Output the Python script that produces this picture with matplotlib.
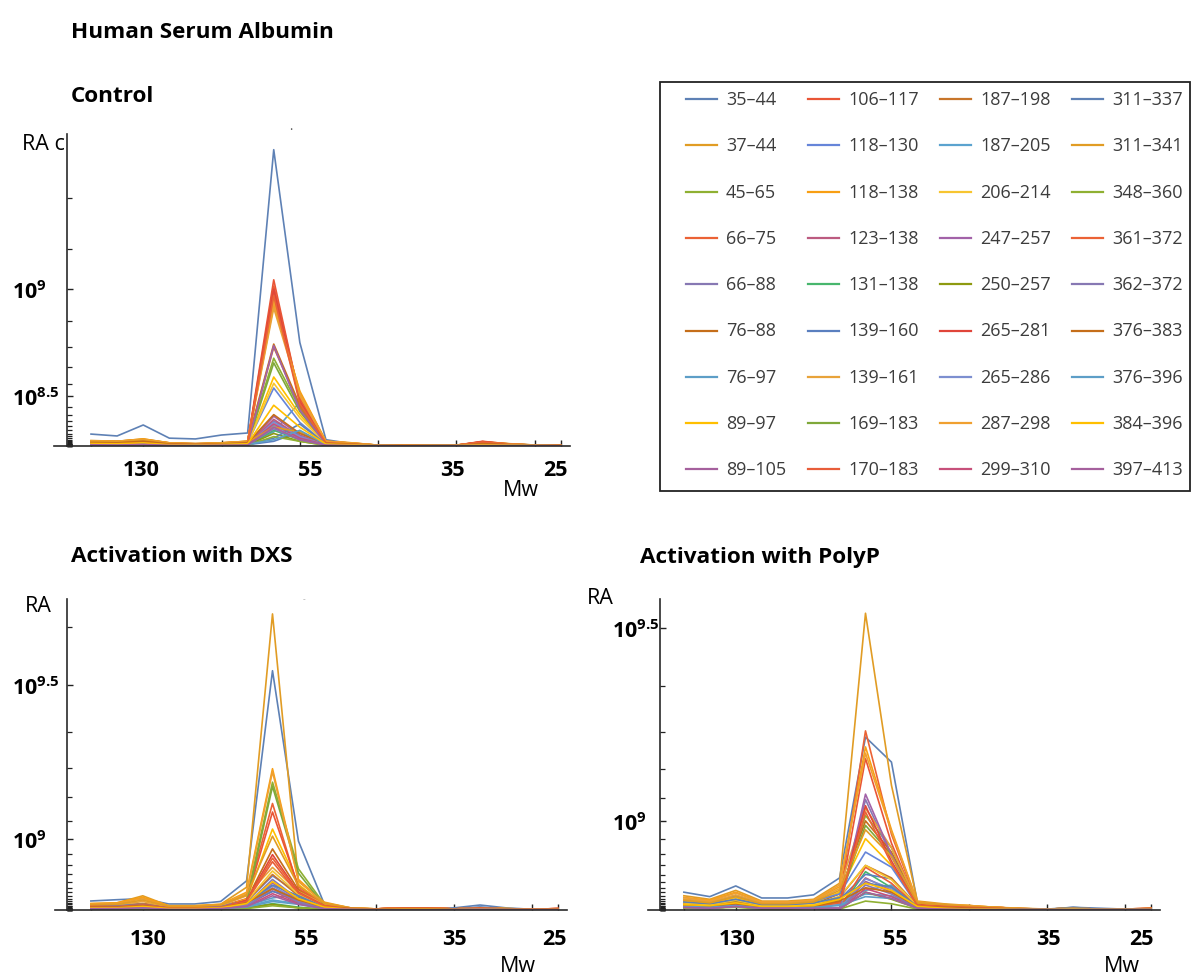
import numpy as np
import matplotlib.pyplot as plt
from matplotlib.patches import Rectangle

plt.rcParams['font.family'] = ['Open Sans', 'DejaVu Sans']
plt.rcParams['mathtext.fontset'] = 'custom'
plt.rcParams['mathtext.rm'] = 'Open Sans'
plt.rcParams['mathtext.bf'] = 'Open Sans:bold'

W, H = 1193, 978

peptides = ['35–44', '37–44', '45–65', '66–75', '66–88', '76–88', '76–97', '89–97', '89–105',
            '106–117', '118–130', '118–138', '123–138', '131–138', '139–160', '139–161', '169–183', '170–183',
            '187–198', '187–205', '206–214', '247–257', '250–257', '265–281', '265–286', '287–298', '299–310',
            '311–337', '311–341', '348–360', '361–372', '362–372', '376–383', '376–396', '384–396', '397–413']

colors = ['#5E81B5', '#E19C24', '#8FB032', '#EB6235', '#8778B3', '#C56E1A', '#5D9EC7', '#FFBF00', '#A5609D',
          '#E95536', '#6685D9', '#F89F13', '#BC5B80', '#47B66D', '#5A7FBF', '#E8A33A', '#7FA83A', '#E85D3A',
          '#C8752A', '#5BA3CF', '#F7C530', '#A262A8', '#8E9A10', '#E0453A', '#7D8FD0', '#F0A030', '#C7507A',
          '#5E81B5', '#E19C24', '#8FB032', '#EB6235', '#8778B3', '#C56E1A', '#5D9EC7', '#FFBF00', '#A5609D']

slices = np.arange(19)
tick_slices = [0, 2, 5, 8, 11, 14, 17, 18]
mw_names = ['130', '55', '35', '25']

# relative abundance, units of 1e8, one row per peptide (legend order)
control = [
    [0.76, 0.64, 1.34, 0.50, 0.45, 0.70, 0.83, 18.9, 6.6, 0.40, 0.15, 0.05, 0.03, 0.03, 0.05, 0.10, 0.12, 0.06, 0.02],
    [0.35, 0.30, 0.45, 0.20, 0.15, 0.20, 0.30, 9.4, 3.4, 0.30, 0.20, 0.05, 0.03, 0.04, 0.06, 0.25, 0.15, 0.06, 0.02],
    [0.25, 0.22, 0.30, 0.12, 0.10, 0.15, 0.20, 5.6, 2.4, 0.20, 0.10, 0.04, 0.02, 0.03, 0.04, 0.10, 0.08, 0.04, 0.02],
    [0.30, 0.28, 0.40, 0.18, 0.12, 0.18, 0.28, 10.2, 3.1, 0.30, 0.18, 0.05, 0.03, 0.03, 0.05, 0.22, 0.12, 0.05, 0.02],
    [0.10, 0.08, 0.12, 0.05, 0.04, 0.06, 0.08, 1.6, 0.6, 0.10, 0.05, 0.02, 0.01, 0.02, 0.02, 0.05, 0.04, 0.02, 0.01],
    [0.32, 0.30, 0.42, 0.20, 0.15, 0.20, 0.30, 6.5, 2.6, 0.25, 0.15, 0.05, 0.03, 0.03, 0.05, 0.28, 0.14, 0.06, 0.02],
    [0.15, 0.12, 0.18, 0.08, 0.06, 0.10, 0.12, 0.9, 2.8, 0.15, 0.06, 0.03, 0.02, 0.02, 0.03, 0.06, 0.05, 0.03, 0.01],
    [0.20, 0.18, 0.25, 0.10, 0.08, 0.12, 0.18, 4.4, 2.0, 0.15, 0.12, 0.04, 0.02, 0.03, 0.04, 0.12, 0.08, 0.04, 0.02],
    [0.12, 0.10, 0.15, 0.06, 0.05, 0.08, 0.10, 1.9, 0.7, 0.10, 0.05, 0.02, 0.01, 0.02, 0.02, 0.05, 0.04, 0.02, 0.01],
    [0.28, 0.25, 0.38, 0.16, 0.12, 0.16, 0.25, 10.6, 3.0, 0.28, 0.15, 0.05, 0.03, 0.03, 0.05, 0.30, 0.13, 0.05, 0.02],
    [0.20, 0.18, 0.30, 0.10, 0.08, 0.12, 0.20, 3.7, 1.5, 0.15, 0.08, 0.03, 0.02, 0.02, 0.03, 0.08, 0.06, 0.03, 0.01],
    [0.33, 0.30, 0.45, 0.20, 0.15, 0.20, 0.30, 9.0, 3.5, 0.30, 0.20, 0.05, 0.03, 0.04, 0.06, 0.24, 0.14, 0.05, 0.02],
    [0.12, 0.10, 0.15, 0.06, 0.05, 0.08, 0.10, 1.7, 0.6, 0.10, 0.05, 0.02, 0.01, 0.02, 0.02, 0.05, 0.04, 0.02, 0.01],
    [0.08, 0.06, 0.10, 0.04, 0.03, 0.05, 0.06, 1.0, 0.4, 0.06, 0.03, 0.02, 0.01, 0.01, 0.02, 0.03, 0.03, 0.02, 0.01],
    [0.10, 0.08, 0.12, 0.05, 0.04, 0.06, 0.08, 0.3, 0.9, 0.10, 0.05, 0.02, 0.01, 0.02, 0.02, 0.04, 0.04, 0.02, 0.01],
    [0.30, 0.28, 0.40, 0.18, 0.13, 0.18, 0.28, 8.8, 3.3, 0.28, 0.18, 0.05, 0.03, 0.04, 0.05, 0.20, 0.12, 0.05, 0.02],
    [0.15, 0.12, 0.20, 0.08, 0.06, 0.10, 0.15, 5.3, 2.2, 0.15, 0.08, 0.03, 0.02, 0.02, 0.03, 0.06, 0.05, 0.03, 0.01],
    [0.26, 0.24, 0.35, 0.15, 0.11, 0.15, 0.24, 9.8, 2.9, 0.26, 0.14, 0.05, 0.03, 0.03, 0.05, 0.26, 0.12, 0.05, 0.02],
    [0.25, 0.22, 0.32, 0.14, 0.10, 0.14, 0.22, 6.3, 2.5, 0.22, 0.12, 0.04, 0.03, 0.03, 0.04, 0.20, 0.10, 0.04, 0.02],
    [0.10, 0.08, 0.12, 0.05, 0.04, 0.06, 0.08, 1.3, 0.5, 0.08, 0.04, 0.02, 0.01, 0.01, 0.02, 0.04, 0.03, 0.02, 0.01],
    [0.18, 0.16, 0.22, 0.10, 0.08, 0.12, 0.16, 4.0, 1.8, 0.14, 0.10, 0.03, 0.02, 0.02, 0.03, 0.10, 0.07, 0.03, 0.01],
    [0.12, 0.10, 0.14, 0.06, 0.05, 0.08, 0.10, 6.4, 2.3, 0.12, 0.05, 0.02, 0.01, 0.02, 0.02, 0.05, 0.04, 0.02, 0.01],
    [0.08, 0.06, 0.10, 0.04, 0.03, 0.05, 0.06, 0.8, 0.3, 0.05, 0.03, 0.02, 0.01, 0.01, 0.02, 0.03, 0.02, 0.01, 0.01],
    [0.22, 0.20, 0.30, 0.12, 0.10, 0.14, 0.20, 10.0, 2.8, 0.22, 0.12, 0.04, 0.03, 0.03, 0.04, 0.28, 0.10, 0.04, 0.02],
    [0.10, 0.08, 0.12, 0.05, 0.04, 0.06, 0.08, 1.5, 0.6, 0.08, 0.04, 0.02, 0.01, 0.01, 0.02, 0.04, 0.03, 0.02, 0.01],
    [0.30, 0.26, 0.40, 0.18, 0.12, 0.18, 0.26, 9.2, 3.2, 0.28, 0.18, 0.05, 0.03, 0.04, 0.05, 0.22, 0.12, 0.05, 0.02],
    [0.10, 0.08, 0.12, 0.05, 0.04, 0.06, 0.08, 1.4, 0.5, 0.08, 0.04, 0.02, 0.01, 0.01, 0.02, 0.04, 0.03, 0.02, 0.01],
    [0.14, 0.12, 0.18, 0.08, 0.06, 0.10, 0.12, 0.5, 1.4, 0.12, 0.05, 0.02, 0.02, 0.02, 0.03, 0.05, 0.05, 0.03, 0.01],
    [0.28, 0.25, 0.36, 0.16, 0.12, 0.16, 0.25, 1.2, 0.9, 0.20, 0.15, 0.04, 0.03, 0.03, 0.04, 0.18, 0.10, 0.04, 0.02],
    [0.06, 0.05, 0.08, 0.03, 0.03, 0.04, 0.05, 0.6, 0.3, 0.04, 0.02, 0.01, 0.01, 0.01, 0.01, 0.02, 0.02, 0.01, 0.01],
    [0.20, 0.18, 0.28, 0.12, 0.09, 0.12, 0.18, 9.6, 2.7, 0.20, 0.12, 0.04, 0.03, 0.03, 0.04, 0.24, 0.10, 0.04, 0.02],
    [0.08, 0.06, 0.10, 0.04, 0.03, 0.05, 0.06, 1.1, 0.4, 0.06, 0.03, 0.02, 0.01, 0.01, 0.02, 0.03, 0.03, 0.02, 0.01],
    [0.22, 0.20, 0.30, 0.12, 0.09, 0.12, 0.20, 2.0, 0.8, 0.16, 0.10, 0.03, 0.02, 0.02, 0.03, 0.15, 0.08, 0.03, 0.02],
    [0.12, 0.10, 0.14, 0.06, 0.05, 0.08, 0.10, 0.4, 1.0, 0.10, 0.05, 0.02, 0.01, 0.02, 0.02, 0.04, 0.04, 0.02, 0.01],
    [0.16, 0.14, 0.20, 0.08, 0.06, 0.10, 0.14, 2.6, 1.2, 0.12, 0.08, 0.03, 0.02, 0.02, 0.03, 0.08, 0.06, 0.03, 0.01],
    [0.08, 0.06, 0.10, 0.04, 0.03, 0.05, 0.06, 1.2, 0.4, 0.06, 0.03, 0.02, 0.01, 0.01, 0.02, 0.03, 0.03, 0.02, 0.01],
]

dxs = [
    [1.27, 1.45, 1.6, 0.85, 0.85, 1.2, 4.1, 33.7, 9.7, 0.8, 0.2, 0.1, 0.15, 0.15, 0.3, 0.7, 0.3, 0.1, 0.15],
    [0.9, 1.0, 2.0, 0.6, 0.6, 0.8, 3.2, 41.7, 4.0, 1.1, 0.3, 0.15, 0.3, 0.3, 0.15, 0.3, 0.2, 0.1, 0.2],
    [0.5, 0.5, 0.7, 0.3, 0.3, 0.4, 1.5, 18.0, 5.8, 0.8, 0.2, 0.1, 0.1, 0.1, 0.1, 0.2, 0.1, 0.05, 0.1],
    [0.6, 0.6, 0.9, 0.4, 0.4, 0.5, 1.6, 15.0, 3.0, 0.7, 0.2, 0.15, 0.3, 0.3, 0.15, 0.3, 0.15, 0.1, 0.2],
    [0.3, 0.3, 0.4, 0.2, 0.2, 0.3, 0.8, 4.3, 1.5, 0.4, 0.1, 0.05, 0.05, 0.05, 0.05, 0.1, 0.05, 0.05, 0.05],
    [0.6, 0.6, 0.9, 0.4, 0.4, 0.5, 1.4, 8.6, 2.8, 0.6, 0.2, 0.15, 0.3, 0.25, 0.15, 0.3, 0.15, 0.1, 0.15],
    [0.3, 0.3, 0.4, 0.2, 0.2, 0.3, 0.6, 1.7, 2.2, 0.4, 0.1, 0.05, 0.05, 0.05, 0.1, 0.2, 0.1, 0.05, 0.05],
    [0.5, 0.5, 0.8, 0.3, 0.3, 0.4, 1.5, 11.4, 3.6, 0.7, 0.2, 0.1, 0.15, 0.15, 0.1, 0.2, 0.1, 0.05, 0.1],
    [0.3, 0.3, 0.4, 0.2, 0.2, 0.3, 0.7, 3.1, 1.2, 0.3, 0.1, 0.05, 0.05, 0.05, 0.05, 0.1, 0.05, 0.05, 0.05],
    [0.5, 0.5, 0.8, 0.3, 0.3, 0.4, 1.4, 13.8, 3.3, 0.7, 0.2, 0.15, 0.3, 0.3, 0.15, 0.3, 0.15, 0.1, 0.2],
    [0.6, 0.7, 0.8, 0.4, 0.4, 0.6, 1.2, 4.8, 2.4, 0.5, 0.1, 0.05, 0.05, 0.05, 0.1, 0.3, 0.1, 0.05, 0.05],
    [0.9, 1.0, 1.8, 0.6, 0.6, 0.8, 2.5, 19.9, 4.3, 1.0, 0.3, 0.15, 0.25, 0.25, 0.15, 0.3, 0.2, 0.1, 0.15],
    [0.2, 0.2, 0.3, 0.15, 0.15, 0.2, 0.6, 2.7, 1.0, 0.3, 0.1, 0.05, 0.05, 0.05, 0.05, 0.1, 0.05, 0.05, 0.05],
    [0.1, 0.1, 0.15, 0.05, 0.05, 0.1, 0.3, 0.9, 0.4, 0.1, 0.05, 0.02, 0.02, 0.02, 0.02, 0.05, 0.02, 0.02, 0.02],
    [0.4, 0.4, 0.5, 0.3, 0.3, 0.4, 0.9, 2.6, 1.8, 0.4, 0.1, 0.05, 0.05, 0.05, 0.1, 0.4, 0.1, 0.05, 0.05],
    [0.6, 0.7, 1.2, 0.4, 0.4, 0.6, 2.0, 6.0, 2.6, 0.8, 0.2, 0.1, 0.2, 0.2, 0.1, 0.2, 0.1, 0.1, 0.1],
    [0.3, 0.3, 0.5, 0.2, 0.2, 0.3, 1.0, 17.4, 5.2, 0.6, 0.1, 0.05, 0.05, 0.05, 0.05, 0.1, 0.05, 0.05, 0.05],
    [0.5, 0.5, 0.7, 0.3, 0.3, 0.4, 1.2, 6.8, 2.2, 0.6, 0.2, 0.15, 0.3, 0.25, 0.1, 0.25, 0.1, 0.1, 0.15],
    [0.5, 0.5, 0.8, 0.3, 0.3, 0.4, 1.2, 5.0, 2.0, 0.5, 0.2, 0.1, 0.25, 0.2, 0.1, 0.2, 0.1, 0.1, 0.1],
    [0.2, 0.2, 0.3, 0.15, 0.15, 0.2, 0.5, 1.4, 0.9, 0.2, 0.05, 0.02, 0.02, 0.02, 0.05, 0.1, 0.05, 0.02, 0.02],
    [0.4, 0.4, 0.6, 0.3, 0.3, 0.4, 1.2, 5.5, 2.2, 0.5, 0.1, 0.05, 0.1, 0.1, 0.05, 0.1, 0.05, 0.05, 0.05],
    [0.2, 0.2, 0.3, 0.15, 0.15, 0.2, 0.6, 3.8, 1.4, 0.3, 0.1, 0.05, 0.05, 0.05, 0.05, 0.1, 0.05, 0.05, 0.05],
    [0.1, 0.1, 0.15, 0.05, 0.05, 0.1, 0.3, 0.8, 0.3, 0.1, 0.05, 0.02, 0.02, 0.02, 0.02, 0.05, 0.02, 0.02, 0.02],
    [0.5, 0.5, 0.7, 0.3, 0.3, 0.4, 1.3, 7.8, 2.5, 0.6, 0.2, 0.15, 0.3, 0.3, 0.15, 0.3, 0.15, 0.1, 0.2],
    [0.2, 0.2, 0.3, 0.15, 0.15, 0.2, 0.6, 3.4, 1.3, 0.3, 0.1, 0.05, 0.05, 0.05, 0.05, 0.1, 0.05, 0.05, 0.05],
    [0.8, 0.9, 1.6, 0.5, 0.5, 0.7, 2.3, 19.5, 4.1, 0.9, 0.3, 0.15, 0.25, 0.25, 0.15, 0.3, 0.2, 0.1, 0.15],
    [0.2, 0.2, 0.3, 0.15, 0.15, 0.2, 0.5, 2.3, 0.9, 0.2, 0.1, 0.05, 0.05, 0.05, 0.05, 0.1, 0.05, 0.05, 0.05],
    [0.5, 0.6, 0.7, 0.3, 0.3, 0.5, 1.0, 3.5, 2.0, 0.4, 0.1, 0.05, 0.05, 0.05, 0.1, 0.4, 0.1, 0.05, 0.05],
    [0.7, 0.8, 1.4, 0.5, 0.5, 0.7, 2.1, 10.4, 3.4, 0.9, 0.3, 0.15, 0.25, 0.25, 0.15, 0.25, 0.15, 0.1, 0.15],
    [0.1, 0.1, 0.1, 0.05, 0.05, 0.1, 0.2, 0.6, 0.3, 0.1, 0.05, 0.02, 0.02, 0.02, 0.02, 0.05, 0.02, 0.02, 0.02],
    [0.5, 0.5, 0.7, 0.3, 0.3, 0.4, 1.2, 7.3, 2.4, 0.6, 0.2, 0.15, 0.3, 0.3, 0.15, 0.3, 0.15, 0.1, 0.2],
    [0.2, 0.2, 0.3, 0.1, 0.1, 0.2, 0.5, 3.0, 1.1, 0.2, 0.1, 0.05, 0.05, 0.05, 0.05, 0.1, 0.05, 0.05, 0.05],
    [0.4, 0.4, 0.6, 0.2, 0.2, 0.3, 1.0, 3.0, 1.4, 0.4, 0.2, 0.1, 0.2, 0.2, 0.1, 0.2, 0.1, 0.05, 0.1],
    [0.2, 0.2, 0.3, 0.1, 0.1, 0.2, 0.4, 1.2, 0.8, 0.2, 0.05, 0.02, 0.02, 0.02, 0.05, 0.1, 0.05, 0.02, 0.02],
    [0.3, 0.3, 0.5, 0.2, 0.2, 0.3, 0.9, 4.0, 1.6, 0.4, 0.1, 0.05, 0.1, 0.1, 0.05, 0.1, 0.05, 0.05, 0.05],
    [0.2, 0.2, 0.3, 0.1, 0.1, 0.2, 0.5, 2.0, 0.8, 0.2, 0.1, 0.05, 0.05, 0.05, 0.05, 0.1, 0.05, 0.05, 0.05],
]

polyp = [
    [2.0, 1.5, 2.7, 1.35, 1.35, 1.7, 3.6, 19.4, 16.6, 0.8, 0.6, 0.3, 0.2, 0.1, 0.1, 0.3, 0.2, 0.1, 0.1],
    [1.6, 1.2, 2.2, 1.0, 1.0, 1.2, 3.0, 33.3, 14.0, 1.0, 0.7, 0.5, 0.3, 0.2, 0.1, 0.2, 0.1, 0.1, 0.2],
    [0.8, 0.6, 1.0, 0.5, 0.5, 0.6, 1.5, 10.6, 7.0, 0.6, 0.4, 0.3, 0.2, 0.1, 0.05, 0.1, 0.05, 0.05, 0.1],
    [0.6, 0.4, 0.8, 0.4, 0.4, 0.5, 1.2, 20.1, 8.5, 0.7, 0.5, 0.4, 0.3, 0.15, 0.1, 0.2, 0.1, 0.1, 0.2],
    [0.5, 0.4, 0.7, 0.3, 0.3, 0.4, 0.2, 12.4, 6.0, 0.5, 0.3, 0.2, 0.1, 0.05, 0.05, 0.1, 0.05, 0.05, 0.1],
    [0.9, 0.7, 1.2, 0.6, 0.6, 0.7, 1.8, 10.0, 6.5, 0.7, 0.5, 0.4, 0.3, 0.15, 0.1, 0.2, 0.1, 0.1, 0.15],
    [0.6, 0.5, 0.8, 0.4, 0.4, 0.5, 0.8, 2.2, 2.8, 0.4, 0.2, 0.1, 0.05, 0.05, 0.05, 0.1, 0.05, 0.05, 0.05],
    [1.0, 0.8, 1.4, 0.7, 0.7, 0.8, 2.0, 8.0, 5.0, 0.6, 0.4, 0.3, 0.2, 0.1, 0.05, 0.1, 0.05, 0.05, 0.1],
    [0.4, 0.3, 0.5, 0.2, 0.2, 0.3, 0.1, 3.2, 2.0, 0.3, 0.2, 0.1, 0.05, 0.05, 0.05, 0.05, 0.05, 0.05, 0.05],
    [0.5, 0.4, 0.7, 0.3, 0.3, 0.4, 1.0, 17.0, 7.5, 0.6, 0.5, 0.4, 0.3, 0.15, 0.1, 0.2, 0.1, 0.1, 0.2],
    [1.2, 0.9, 1.6, 0.8, 0.8, 1.0, 1.8, 6.5, 4.8, 0.5, 0.3, 0.2, 0.1, 0.05, 0.05, 0.2, 0.1, 0.05, 0.05],
    [1.4, 1.1, 2.0, 0.9, 0.9, 1.1, 2.6, 18.3, 9.0, 0.9, 0.6, 0.5, 0.3, 0.15, 0.1, 0.2, 0.1, 0.1, 0.15],
    [0.4, 0.3, 0.5, 0.2, 0.2, 0.3, 0.1, 3.6, 2.2, 0.3, 0.2, 0.1, 0.05, 0.05, 0.05, 0.05, 0.05, 0.05, 0.05],
    [0.3, 0.2, 0.4, 0.2, 0.2, 0.2, 0.1, 4.3, 2.5, 0.3, 0.1, 0.05, 0.05, 0.05, 0.05, 0.05, 0.05, 0.05, 0.05],
    [0.8, 0.6, 1.1, 0.5, 0.5, 0.7, 1.2, 4.0, 3.5, 0.4, 0.2, 0.1, 0.05, 0.05, 0.05, 0.2, 0.1, 0.05, 0.05],
    [1.2, 0.9, 1.7, 0.8, 0.8, 1.0, 2.4, 11.4, 7.0, 0.8, 0.6, 0.4, 0.3, 0.15, 0.1, 0.2, 0.1, 0.1, 0.15],
    [0.6, 0.5, 0.8, 0.4, 0.4, 0.5, 1.2, 9.5, 6.2, 0.5, 0.3, 0.2, 0.1, 0.05, 0.05, 0.1, 0.05, 0.05, 0.05],
    [0.4, 0.3, 0.6, 0.3, 0.3, 0.3, 0.2, 4.8, 3.0, 0.4, 0.3, 0.2, 0.15, 0.1, 0.05, 0.1, 0.05, 0.05, 0.1],
    [0.7, 0.5, 0.9, 0.4, 0.4, 0.5, 1.4, 5.0, 3.6, 0.5, 0.4, 0.3, 0.2, 0.1, 0.05, 0.15, 0.05, 0.05, 0.1],
    [0.5, 0.4, 0.6, 0.3, 0.3, 0.4, 0.6, 1.8, 1.6, 0.3, 0.1, 0.05, 0.05, 0.05, 0.05, 0.1, 0.05, 0.05, 0.05],
    [0.8, 0.6, 1.1, 0.5, 0.5, 0.6, 1.5, 5.0, 3.4, 0.5, 0.3, 0.2, 0.1, 0.05, 0.05, 0.1, 0.05, 0.05, 0.05],
    [0.5, 0.4, 0.6, 0.3, 0.3, 0.4, 0.2, 13.0, 6.2, 0.5, 0.3, 0.2, 0.1, 0.05, 0.05, 0.1, 0.05, 0.05, 0.05],
    [0.3, 0.2, 0.4, 0.2, 0.2, 0.2, 0.1, 2.0, 1.2, 0.2, 0.1, 0.05, 0.05, 0.05, 0.05, 0.05, 0.05, 0.05, 0.05],
    [0.5, 0.4, 0.7, 0.3, 0.3, 0.4, 0.9, 11.7, 5.5, 0.5, 0.4, 0.3, 0.2, 0.1, 0.05, 0.15, 0.05, 0.05, 0.15],
    [0.4, 0.3, 0.5, 0.2, 0.2, 0.3, 0.1, 3.5, 2.4, 0.3, 0.2, 0.1, 0.05, 0.05, 0.05, 0.05, 0.05, 0.05, 0.05],
    [1.4, 1.0, 1.9, 0.9, 0.9, 1.1, 2.8, 17.6, 8.8, 0.9, 0.6, 0.5, 0.3, 0.15, 0.1, 0.2, 0.1, 0.1, 0.15],
    [0.3, 0.2, 0.4, 0.2, 0.2, 0.2, 0.1, 2.4, 1.5, 0.2, 0.1, 0.05, 0.05, 0.05, 0.05, 0.05, 0.05, 0.05, 0.05],
    [0.9, 0.7, 1.2, 0.6, 0.6, 0.8, 1.4, 3.0, 2.6, 0.4, 0.2, 0.1, 0.05, 0.05, 0.05, 0.3, 0.1, 0.05, 0.05],
    [1.1, 0.8, 1.5, 0.7, 0.7, 0.9, 2.2, 9.0, 6.0, 0.8, 0.6, 0.4, 0.3, 0.15, 0.1, 0.2, 0.1, 0.1, 0.15],
    [0.2, 0.2, 0.3, 0.1, 0.1, 0.2, 0.1, 1.0, 0.7, 0.1, 0.05, 0.05, 0.05, 0.05, 0.05, 0.05, 0.05, 0.05, 0.05],
    [0.5, 0.4, 0.7, 0.3, 0.3, 0.4, 0.8, 11.0, 5.2, 0.5, 0.4, 0.3, 0.2, 0.1, 0.05, 0.15, 0.05, 0.05, 0.15],
    [0.3, 0.2, 0.4, 0.2, 0.2, 0.2, 0.1, 2.8, 1.8, 0.2, 0.1, 0.05, 0.05, 0.05, 0.05, 0.05, 0.05, 0.05, 0.05],
    [0.5, 0.4, 0.7, 0.3, 0.3, 0.4, 1.0, 2.5, 2.0, 0.4, 0.3, 0.2, 0.15, 0.1, 0.05, 0.1, 0.05, 0.05, 0.1],
    [0.4, 0.3, 0.5, 0.2, 0.2, 0.3, 0.5, 1.5, 1.3, 0.2, 0.1, 0.05, 0.05, 0.05, 0.05, 0.1, 0.05, 0.05, 0.05],
    [0.6, 0.5, 0.8, 0.4, 0.4, 0.5, 1.2, 3.0, 2.2, 0.4, 0.2, 0.1, 0.1, 0.05, 0.05, 0.1, 0.05, 0.05, 0.05],
    [0.3, 0.2, 0.4, 0.2, 0.2, 0.2, 0.1, 2.0, 1.3, 0.2, 0.1, 0.05, 0.05, 0.05, 0.05, 0.05, 0.05, 0.05, 0.05],
]

fig = plt.figure(figsize=(W / 100, H / 100), dpi=100)


def panel(left, right, top, bottom, data, ymax, labelled, label_x, mw_pos, mw_dy):
    ax = fig.add_axes([left / W, 1 - bottom / H, (right - left) / W, (bottom - top) / H])
    for row, c in zip(data, colors):
        ax.plot(slices, np.array(row) * 1e8, color=c, lw=1.2)
    ax.set_xlim(-0.92, 18.35)
    ax.set_ylim(0, ymax)
    for s in ['top', 'right']:
        ax.spines[s].set_visible(False)
    for s in ['left', 'bottom']:
        ax.spines[s].set_color('#2a2a2a')
        ax.spines[s].set_linewidth(1.2)
    # x axis runs a little past the y axis
    ax.plot([-0.025, 0], [0, 0], transform=ax.transAxes, color='#2a2a2a', lw=1.2, clip_on=False)

    ax.set_xticks(tick_slices, [''] * len(tick_slices))
    ax.tick_params(axis='x', direction='in', length=4.5, width=1.0, color='#222222')
    for x, name in zip(mw_pos, mw_names):
        ax.text(x, -mw_dy / (bottom - top), name, transform=ax.get_xaxis_transform(),
                fontsize=15.5, fontweight='bold', ha='center', va='center')

    majors = [10 ** e for e in labelled]
    names = [r'$\mathbf{10^{%g}}$' % e for e in labelled]
    ax.set_yticks(majors, names, fontsize=15.5, ha='left')
    minor = [10 ** (k / 10) for k in range(60, 100) if 10 ** (k / 10) < ymax and k / 10 not in labelled]
    ax.set_yticks(minor, minor=True)
    pad = (left - label_x) * 0.72
    ax.tick_params(axis='y', which='major', direction='in', length=4.5, width=1.0, color='#222222', pad=pad)
    ax.tick_params(axis='y', which='minor', direction='in', length=3.5, width=0.9, color='#222222')
    return ax


panel(67, 570, 135, 447, control, 1.99e9, [8.5, 9], 12, [1.92, 8.38, 13.83, 17.78], 24)
panel(67, 567, 600, 911, dxs, 4.38e9, [9, 9.5], 12, [2.2, 8.3, 14.0, 17.85], 29)
panel(660, 1160, 600, 911, polyp, 3.49e9, [9, 9.5], 612, [2.05, 8.15, 14.05, 17.65], 29)

# overlay in pixel coordinates for headings and the legend box
ov = fig.add_axes([0, 0, 1, 1])
ov.set_xlim(0, W)
ov.set_ylim(H, 0)
ov.axis('off')
ov.patch.set_visible(False)

heads = [('Human Serum Albumin', 71, 32), ('Control', 71, 96),
         ('Activation with DXS', 71, 557), ('Activation with PolyP', 640, 557)]
for txt, x, y in heads:
    ov.text(x, y, txt, fontsize=16.2, fontweight='bold', va='center', ha='left')

for txt, x, y in [('RA c', 22, 145), ('RA', 25, 607), ('RA', 587, 598),
                  ('Mw', 503, 490), ('Mw', 500, 967), ('Mw', 1104, 966)]:
    ov.text(x, y, txt, fontsize=15.5, va='center', ha='left')

# stray marks left over in the source figure
ov.text(291, 131, '·', fontsize=9, color='#555555', ha='center', va='center')
ov.text(304, 600, '-', fontsize=6, color='#999999', ha='center', va='center')

ov.add_patch(Rectangle((660, 83), 530, 409, fill=False, ec='#222222', lw=1.3))
col_x = [686, 808, 940, 1072]
for k, (name, c) in enumerate(zip(peptides, colors)):
    col, row = k // 9, k % 9
    x0 = col_x[col]
    y0 = 100 + 46.3 * row
    ov.plot([x0, x0 + 31], [y0, y0], color=c, lw=1.6)
    ov.text(x0 + 40, y0, name, fontsize=13, color='#3c3c3c', va='center', ha='left')

fig.savefig('out.png', dpi=100)
